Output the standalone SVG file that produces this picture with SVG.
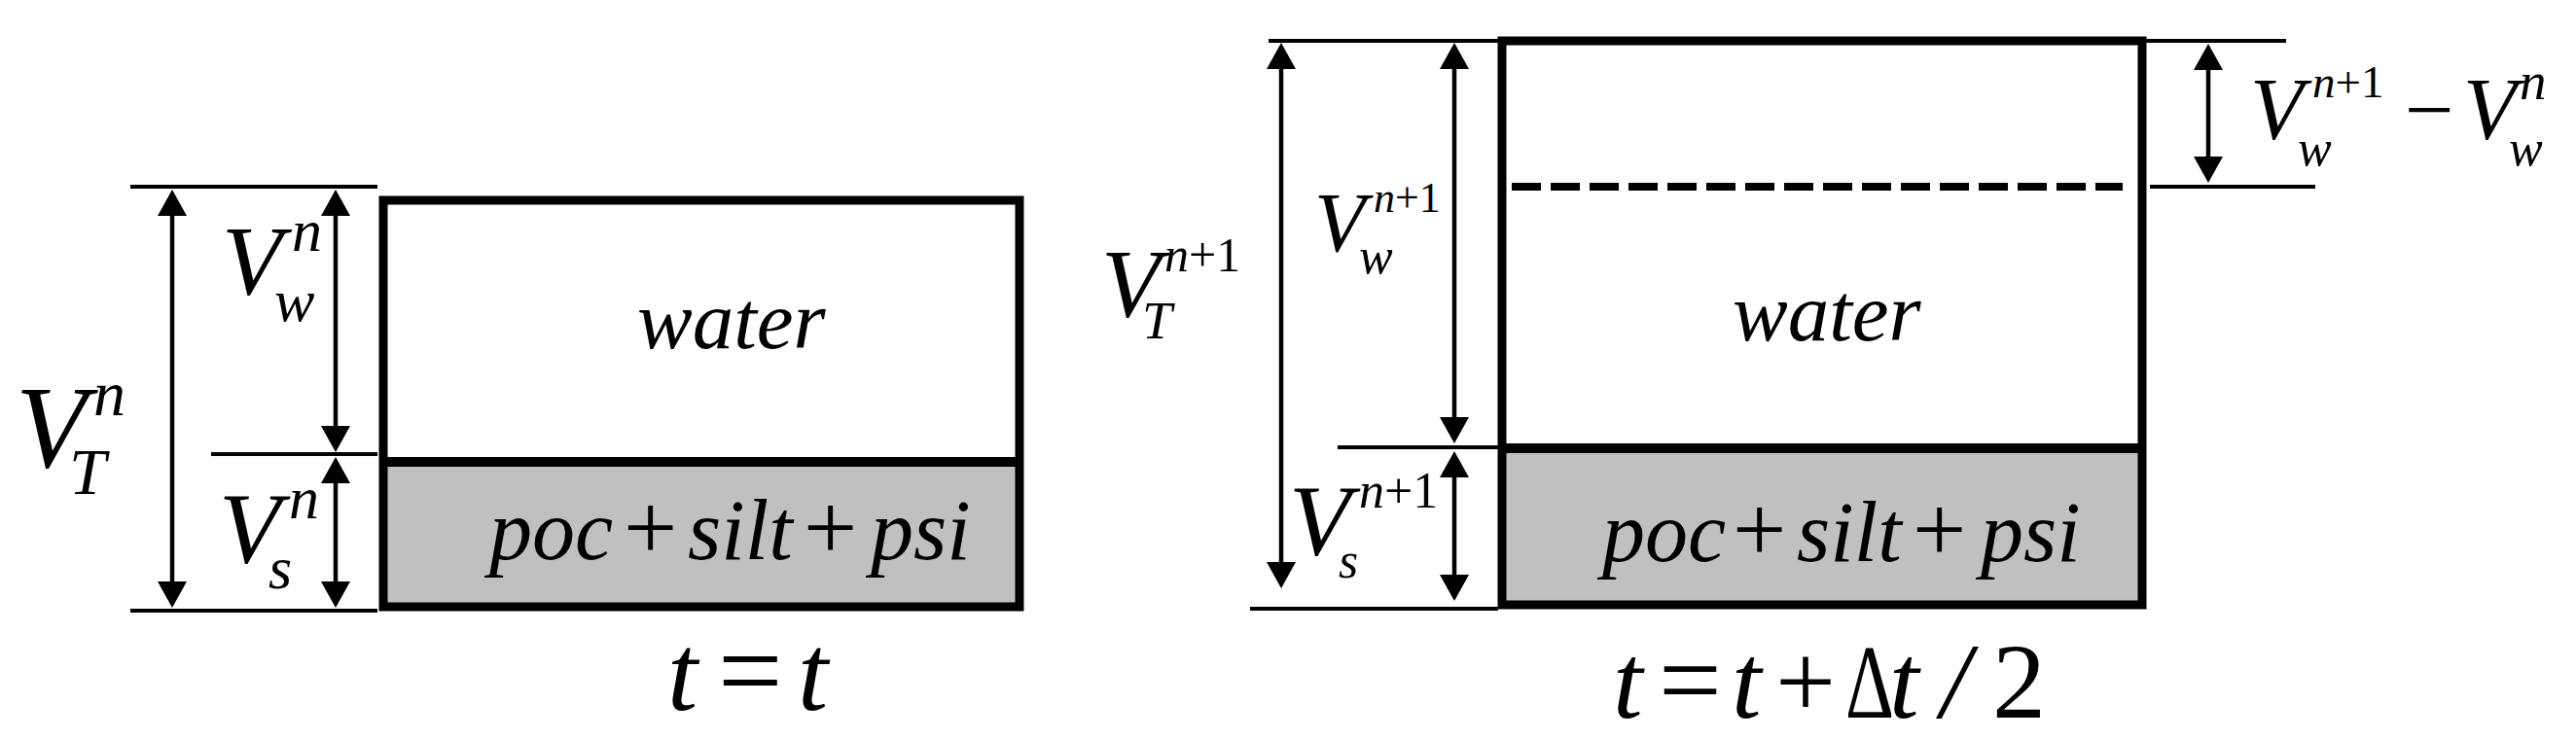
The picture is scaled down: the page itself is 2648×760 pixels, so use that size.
<svg xmlns="http://www.w3.org/2000/svg" width="2648" height="760" viewBox="0 0 2648 760">
<style>
.m{font-family:"Liberation Serif","Times New Roman",serif;font-style:italic;fill:#000}
.r{font-style:normal}
.dim{stroke:#000;stroke-width:4;fill:none}
.shaft{stroke:#000;stroke-width:4.5;fill:none;marker-start:url(#ah);marker-end:url(#ah)}
.box{fill:none;stroke:#000;stroke-width:9}
.soil{fill:#c0c0c0}
</style>
<defs>
<marker id="ah" viewBox="0 0 27 30" refX="22" refY="15" markerWidth="27" markerHeight="30" markerUnits="userSpaceOnUse" orient="auto-start-reverse">
<path d="M0,0 L27,15 L0,30 z" fill="#000"/>
</marker>
</defs>
<rect width="2648" height="760" fill="#fff"/>

<g id="left-box">
<rect class="soil" x="394" y="475" width="654" height="149"/>
<rect class="box" x="394" y="206" width="654" height="418"/>
<line x1="394" y1="475" x2="1048" y2="475" stroke="#000" stroke-width="10"/>
<text class="m" x="655" y="358" font-size="85">water</text>
<text class="m" font-size="88"><tspan x="503" y="575">poc</tspan><tspan class="r" x="641" y="575" font-size="98">+</tspan><tspan x="707" y="575">silt</tspan><tspan class="r" x="826" y="575" font-size="98">+</tspan><tspan x="895" y="575">psi</tspan></text>
</g>

<g id="right-box">
<rect class="soil" x="1544" y="461" width="658" height="161"/>
<rect class="box" x="1544" y="42" width="658" height="580"/>
<line x1="1544" y1="461" x2="2202" y2="461" stroke="#000" stroke-width="10"/>
<line x1="1554" y1="192" x2="2182" y2="192" stroke="#000" stroke-width="8" stroke-dasharray="30 10"/>
<text class="m" x="1781" y="350" font-size="85">water</text>
<text class="m" font-size="88"><tspan x="1647" y="577">poc</tspan><tspan class="r" x="1781" y="577" font-size="98">+</tspan><tspan x="1847" y="577">silt</tspan><tspan class="r" x="1966" y="577" font-size="98">+</tspan><tspan x="2036" y="577">psi</tspan></text>
</g>

<g id="connectors">
<line class="dim" x1="134" y1="192" x2="388" y2="192"/>
<line class="dim" x1="217" y1="467" x2="388" y2="467"/>
<line class="dim" x1="134" y1="628" x2="388" y2="628"/>
<line class="shaft" x1="177" y1="200" x2="177" y2="620"/>
<line class="shaft" x1="345" y1="200" x2="345" y2="460"/>
<line class="shaft" x1="345" y1="475" x2="345" y2="620"/>

<line class="dim" x1="1304" y1="42" x2="1540" y2="42"/>
<line class="dim" x1="1375" y1="460" x2="1540" y2="460"/>
<line class="dim" x1="1285" y1="626" x2="1540" y2="626"/>
<line class="shaft" x1="1317" y1="49" x2="1317" y2="600"/>
<line class="shaft" x1="1495" y1="49" x2="1495" y2="451"/>
<line class="shaft" x1="1495" y1="469" x2="1495" y2="613"/>

<line class="dim" x1="2205" y1="42" x2="2350" y2="42"/>
<line class="dim" x1="2210" y1="192" x2="2380" y2="192"/>
<line class="shaft" x1="2270" y1="50" x2="2270" y2="183"/>
</g>

<g id="label-VTn">
<text class="m"><tspan x="16" y="480" font-size="120">V</tspan><tspan x="96" y="427" font-size="66">n</tspan><tspan x="71" y="508" font-size="68">T</tspan></text>
</g>
<g id="label-Vwn">
<text class="m"><tspan x="228" y="303" font-size="102">V</tspan><tspan x="300" y="258" font-size="62">n</tspan><tspan x="282" y="330" font-size="62">w</tspan></text>
</g>
<g id="label-Vsn">
<text class="m"><tspan x="225" y="578" font-size="104">V</tspan><tspan x="297" y="533" font-size="62">n</tspan><tspan x="276" y="605" font-size="62">s</tspan></text>
</g>

<g id="label-VTn1">
<text class="m"><tspan x="1132" y="325" font-size="100">V</tspan><tspan x="1197" y="279" font-size="50">n</tspan><tspan class="r" font-size="50">+1</tspan><tspan x="1174" y="348" font-size="55">T</tspan></text>
</g>
<g id="label-Vwn1">
<text class="m"><tspan x="1351" y="258" font-size="86">V</tspan><tspan x="1412" y="218" font-size="44">n</tspan><tspan class="r" font-size="44">+1</tspan><tspan x="1397" y="281" font-size="52">w</tspan></text>
</g>
<g id="label-Vsn1">
<text class="m"><tspan x="1325" y="570" font-size="104">V</tspan><tspan x="1397" y="522" font-size="52">n</tspan><tspan class="r" font-size="52">+1</tspan><tspan x="1376" y="594" font-size="52">s</tspan></text>
</g>

<g id="label-diff">
<text class="m"><tspan x="2313" y="143" font-size="90">V</tspan><tspan x="2377" y="100" font-size="47">n</tspan><tspan class="r" font-size="47">+1</tspan><tspan x="2362" y="170" font-size="52">w</tspan><tspan class="r" x="2472" y="143" font-size="90">−</tspan><tspan x="2532" y="143" font-size="90">V</tspan><tspan x="2590" y="102" font-size="55">n</tspan><tspan x="2579" y="170" font-size="52">w</tspan></text>
</g>

<g id="label-time-left">
<text class="m" font-size="112"><tspan x="686" y="730">t</tspan><tspan class="r" x="738" y="730" font-size="118">=</tspan><tspan x="820" y="730">t</tspan></text>
</g>
<g id="label-time-right">
<text class="m" font-size="110"><tspan x="1658" y="738">t</tspan><tspan class="r" x="1705" y="738" font-size="115">=</tspan><tspan x="1780" y="738">t</tspan><tspan class="r" x="1825" y="738">+</tspan><tspan class="r" x="1897" y="738" font-size="108" textLength="50" lengthAdjust="spacingAndGlyphs">Δ</tspan><tspan x="1942" y="738">t</tspan><tspan x="1995" y="738">/</tspan><tspan class="r" x="2048" y="738">2</tspan></text>
</g>
</svg>
